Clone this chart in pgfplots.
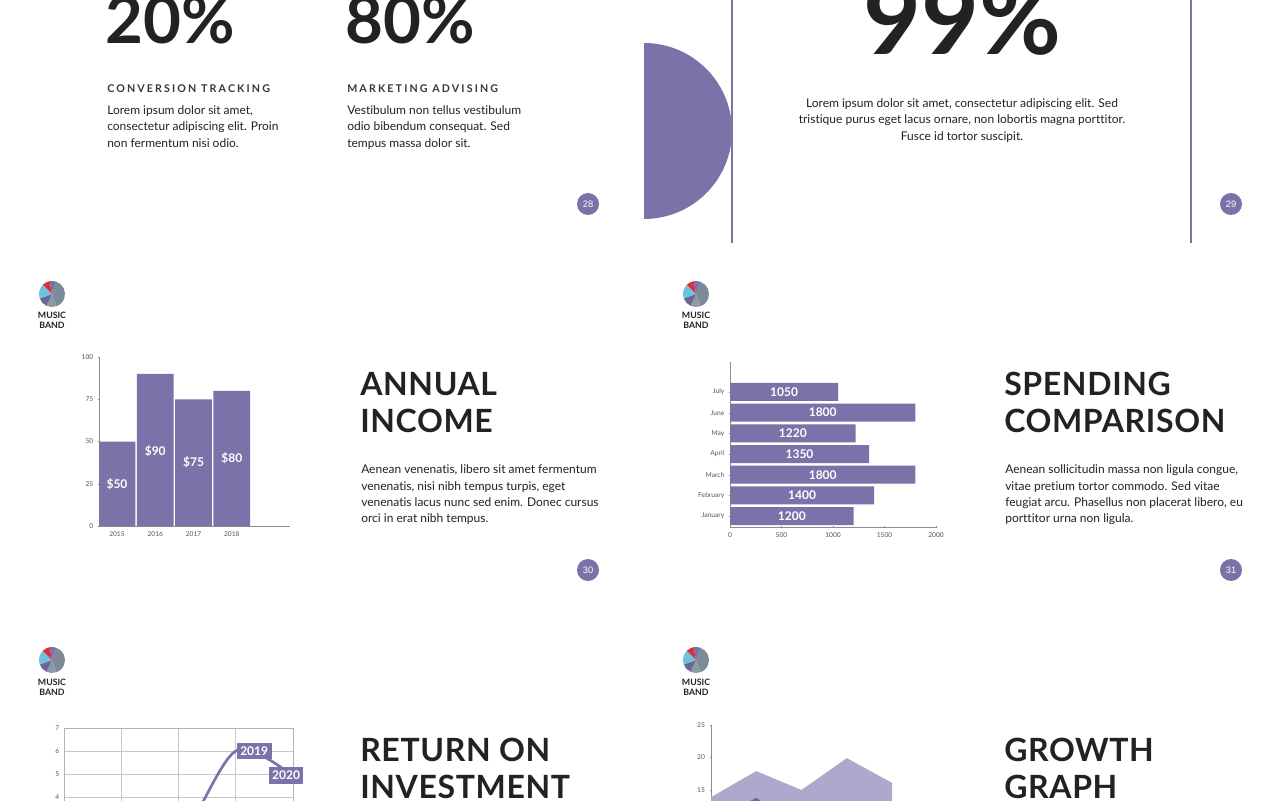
\documentclass[border=0pt]{standalone}
\usepackage{pgfplots}
\pgfplotsset{compat=1.18}
\usepackage{fontspec}
\setmainfont{Lato}[Ligatures=NoCommon]
\newfontfamily\arialf{Liberation Sans}
\definecolor{purp}{HTML}{7A72A8}
\definecolor{lpurp}{HTML}{AEA9CC}
\definecolor{dpurp}{HTML}{6B6599}
\definecolor{txt}{HTML}{222222}
\definecolor{tickc}{HTML}{555555}
\definecolor{axg}{HTML}{8C8C8C}
\definecolor{pred}{HTML}{D8313F}
\definecolor{pblue}{HTML}{6DC2DC}
\definecolor{pgrey}{HTML}{7D8B98}
\definecolor{pgreyb}{HTML}{8C9AA6}
\pgfplotsset{
  base/.style={scale only axis, anchor=south west,
    /pgf/number format/assume math mode=true,
    /pgf/number format/1000 sep={},
    tick label style={font=\fontsize{5}{6}\selectfont, text=tickc},
    tick style={draw=axg},
    tick align=outside, major tick length=1.5pt},
  noarrows/.style={axis line style={-, draw=axg, line width=0.6pt}},
  barlab/.style={draw=none, mark=none, nodes near coords, point meta=explicit symbolic,
    nodes near coords align=center,
    every node near coord/.style={anchor=center, text=white, font=\bfseries\fontsize{9}{10}\selectfont}},
}
\newcommand{\body}{\fontsize{9}{12}\selectfont\color{txt}}
\newcommand{\ttl}{\bfseries\fontsize{24}{28}\selectfont\addfontfeature{LetterSpace=2}\color{txt}}
\newcommand{\sub}{\bfseries\fontsize{8}{10}\selectfont\addfontfeature{LetterSpace=20}\color{txt!90}}
\begin{document}
\begin{tikzpicture}
\useasboundingbox (0,0) rectangle (960pt,600pt);
\fill[white] (0,0) rectangle (960pt,600pt);
\clip (0,0) rectangle (960pt,600pt);
\begin{scope}[x=0.75pt,y=-0.75pt,shift={(0pt,600pt)}]
  % ---- slide 28
  \node[anchor=base west, inner sep=0, text=txt, font=\bfseries\fontsize{49}{52}\selectfont] at (105,44) {20\%};
  \node[anchor=base west, inner sep=0, text=txt, font=\bfseries\fontsize{49}{52}\selectfont] at (345,44) {80\%};
  \node[anchor=base west, inner sep=0, font=\sub] at (107,93) {CONVERSION TRACKING};
  \node[anchor=base west, inner sep=0, font=\sub] at (347,93) {MARKETING ADVISING};
  \node[anchor=base west, inner sep=0, font=\body] at (107,114.5) {Lorem ipsum dolor sit amet,};
  \node[anchor=base west, inner sep=0, font=\body] at (107,131) {consectetur adipiscing elit. Proin};
  \node[anchor=base west, inner sep=0, font=\body] at (107,147.5) {non fermentum nisi odio.};
  \node[anchor=base west, inner sep=0, font=\body] at (347,114.5) {Vestibulum non tellus vestibulum};
  \node[anchor=base west, inner sep=0, font=\body] at (347,131) {odio bibendum consequat. Sed};
  \node[anchor=base west, inner sep=0, font=\body] at (347,147.5) {tempus massa dolor sit.};
  % ---- slide 29
  \fill[purp] (644,43) arc (-90:90:88) -- cycle;
  \draw[purp, line width=1.5pt] (732,0) -- (732,243);
  \draw[purp, line width=1.5pt] (1191,0) -- (1191,243);
  \node[anchor=base, inner sep=0, text=txt, font=\bfseries\fontsize{75}{78}\selectfont] at (962,55) {99\%};
  \node[anchor=base, inner sep=0, font=\body] at (962,107.5) {Lorem ipsum dolor sit amet, consectetur adipiscing elit. Sed};
  \node[anchor=base, inner sep=0, font=\body] at (962,124) {tristique purus eget lacus ornare, non lobortis magna porttitor.};
  \node[anchor=base, inner sep=0, font=\body] at (962,140.5) {Fusce id tortor suscipit.};
  % ---- page numbers
  \foreach \px/\py/\n in {588/204/28, 1231/204/29, 588/570/30, 1231/570/31}{
    \fill[purp] (\px,\py) circle (11);
    \node[text=white, inner sep=0, font=\arialf\fontsize{7}{8}\selectfont] at (\px,\py) {\n};
  }
  % ---- logos
  \foreach \lx/\ly in {52/294, 696/294, 52/660, 696/660}{
    \fill[pgrey] (\lx,\ly) -- ++(-70:13) arc (-70:70:13) -- cycle;
    \fill[pgreyb] (\lx,\ly) -- ++(70:13) arc (70:115:13) -- cycle;
    \fill[dpurp] (\lx,\ly) -- ++(115:13) arc (115:160:13) -- cycle;
    \fill[pblue] (\lx,\ly) -- ++(160:13) arc (160:225:13) -- cycle;
    \fill[pred] (\lx,\ly) -- ++(225:13) arc (225:260:13) -- cycle;
    \fill[purp] (\lx,\ly) -- ++(260:13) arc (260:290:13) -- cycle;
    \node[anchor=base, inner sep=0, text=txt, font=\bfseries\fontsize{6.6}{7}\selectfont] at (\lx,\ly+25) {MUSIC};
    \node[anchor=base, inner sep=0, text=txt, font=\bfseries\fontsize{6.6}{7}\selectfont] at (\lx,\ly+35) {BAND};
  }
  % ---- titles
  \node[anchor=base west, inner sep=0, font=\ttl] at (360,396) {ANNUAL};
  \node[anchor=base west, inner sep=0, font=\ttl] at (360,432.5) {INCOME};
  \node[anchor=base west, inner sep=0, font=\body] at (361,473.5) {Aenean venenatis, libero sit amet fermentum};
  \node[anchor=base west, inner sep=0, font=\body] at (361,490) {venenatis, nisi nibh tempus turpis, eget};
  \node[anchor=base west, inner sep=0, font=\body] at (361,506.5) {venenatis lacus nunc sed enim. Donec cursus};
  \node[anchor=base west, inner sep=0, font=\body] at (361,523) {orci in erat nibh tempus.};
  \node[anchor=base west, inner sep=0, font=\ttl] at (1004,396) {SPENDING};
  \node[anchor=base west, inner sep=0, font=\ttl] at (1004,432.5) {COMPARISON};
  \node[anchor=base west, inner sep=0, font=\body] at (1005,473.5) {Aenean sollicitudin massa non ligula congue,};
  \node[anchor=base west, inner sep=0, font=\body] at (1005,490) {vitae pretium tortor commodo. Sed vitae};
  \node[anchor=base west, inner sep=0, font=\body] at (1005,506.5) {feugiat arcu. Phasellus non placerat libero, eu};
  \node[anchor=base west, inner sep=0, font=\body] at (1005,523) {porttitor urna non ligula.};
  \node[anchor=base west, inner sep=0, font=\ttl] at (360,761.5) {RETURN ON};
  \node[anchor=base west, inner sep=0, font=\ttl] at (360,798) {INVESTMENT};
  \node[anchor=base west, inner sep=0, font=\ttl] at (1004,761.5) {GROWTH};
  \node[anchor=base west, inner sep=0, font=\ttl] at (1004,798) {GRAPH};
\end{scope}
% ---- chart 1: annual income
\begin{axis}[base, at={(74.25pt,205.5pt)}, width=143.25pt, height=126.75pt,
  xmin=-0.47, xmax=4.52, ymin=0, ymax=100,
  axis x line=bottom, axis y line=left, noarrows,
  xtick={0,1,2,3}, xticklabels={2015,2016,2017,2018},
  ytick={0,25,50,75,100}]
  \addplot[ybar, bar width=0.96, bar shift=0pt, fill=purp, draw=none]
    coordinates {(0,50) (1,90) (2,75) (3,80)};
  \addplot[barlab] coordinates {(0,24.5)[\$50] (1,44.5)[\$90] (2,37.5)[\$75] (3,40)[\$80]};
\end{axis}
% ---- chart 2: spending comparison
\begin{axis}[base, at={(547.5pt,204.75pt)}, width=154.5pt, height=123.75pt,
  xmin=0, xmax=2000, ymin=-0.53, ymax=7.45,
  axis x line=bottom, axis y line=left, noarrows,
  ytick={0,...,6}, yticklabels={January,February,March,April,May,June,July},
  xtick={0,500,1000,1500,2000}]
  \addplot[xbar, bar width=0.87, bar shift=0pt, fill=purp, draw=none]
    coordinates {(1200,0) (1400,1) (1800,2) (1350,3) (1220,4) (1800,5) (1050,6)};
  \addplot[barlab] coordinates {(600,0)[1200] (700,1)[1400] (900,2)[1800] (675,3)[1350] (610,4)[1220] (900,5)[1800] (525,6)[1050]};
\end{axis}
% ---- chart 3: return on investment
\begin{axis}[base, at={(48pt,-66.75pt)}, width=171.75pt, height=120.75pt,
  xmin=2016, xmax=2020, ymin=0, ymax=7,
  grid=major, grid style={draw=black!22, line width=0.5pt},
  axis line style={draw=black!30},
  xtick={2016,...,2020}, xticklabels={}, ytick={0,...,7}, major tick length=0pt]
  \addplot[smooth, purp, line width=2pt, mark=none]
    coordinates {(2016,1) (2017,1.6) (2018,2.1) (2019,6) (2020,4.9)};
  \addplot[draw=none, mark=none, nodes near coords, point meta=explicit symbolic,
    nodes near coords align=center,
    every node near coord/.style={anchor=west, xshift=0.6pt, fill=purp, text=white, inner xsep=2.6pt, inner ysep=2.8pt,
      font=\bfseries\fontsize{9}{10}\selectfont}]
    coordinates {(2019,6)[2019]};
  \addplot[draw=none, mark=none, nodes near coords, point meta=explicit symbolic,
    nodes near coords align=center,
    every node near coord/.style={anchor=center, xshift=-5.2pt, yshift=0.5pt, fill=purp, text=white, inner xsep=2.6pt, inner ysep=2.8pt,
      font=\bfseries\fontsize{9}{10}\selectfont}]
    coordinates {(2020,4.9)[2020]};
\end{axis}
% ---- chart 4: growth graph
\begin{axis}[base, at={(533.25pt,-65.625pt)}, width=135.75pt, height=121.9pt,
  xmin=0, xmax=4, ymin=0, ymax=25,
  axis x line=bottom, axis y line=left, noarrows, xtick=\empty,
  ytick={0,5,10,15,20,25}, major tick length=2pt]
  \addplot[fill=lpurp, draw=none] coordinates {(0,13.9) (1,17.9) (2,15) (3,19.9) (4,16.1)} \closedcycle;
  \addplot[fill=dpurp, draw=none] coordinates {(0,10) (1,13.8) (2,9) (3,12) (4,10)} \closedcycle;
\end{axis}
\end{tikzpicture}
\end{document}
